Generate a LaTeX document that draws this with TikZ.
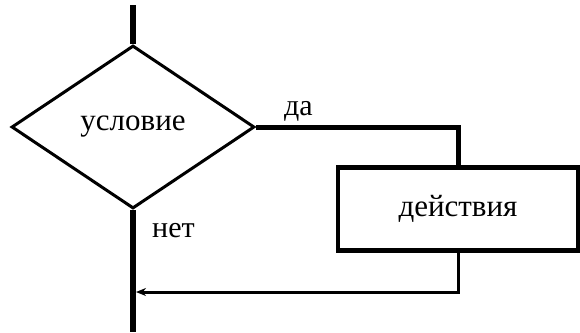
\documentclass[tikz,border=0pt]{standalone}
\usepackage{fontspec}
\setmainfont{Liberation Serif}
\usetikzlibrary{shapes.geometric,arrows.meta}
\begin{document}
\begin{tikzpicture}[x=1pt,y=-1pt,
  thickline/.style={line width=6pt},
  decision/.style={diamond,draw,line width=3pt,minimum width=243pt,minimum height=163pt,inner sep=0pt,font=\fontsize{31}{34}\selectfont},
  actionbox/.style={rectangle,draw,line width=4.5pt,minimum width=240pt,minimum height=83pt,font=\fontsize{31}{34}\selectfont},
  lbl/.style={font=\fontsize{30}{33}\selectfont,inner sep=0pt}]
\useasboundingbox (0,0) rectangle (580,332);
\node[decision] (cond) at (133,127) {условие};
\node[actionbox] (act) at (458,209) {действия};
\coordinate (top) at (133,5);
\coordinate (bot) at (133,332);
\coordinate (yescorner) at (act.north |- cond.east);
\coordinate (retcorner) at (act.south |- 0,292);
\coordinate (retend) at (cond.south |- 0,292);
\draw[thickline] (top) -- (cond.north);
\draw[thickline] (cond.south) -- (bot);
\draw[line width=5pt] (cond.east) -- (yescorner) -- (act.north);
\draw[line width=3pt,-{Stealth[length=10pt,width=8pt]},shorten >=3pt] (act.south) -- (retcorner) -- (retend);
\node[lbl,anchor=base west] (yes) at (284,115) {да};
\node[lbl,anchor=base west] (no) at (152,237) {нет};
\end{tikzpicture}
\end{document}
